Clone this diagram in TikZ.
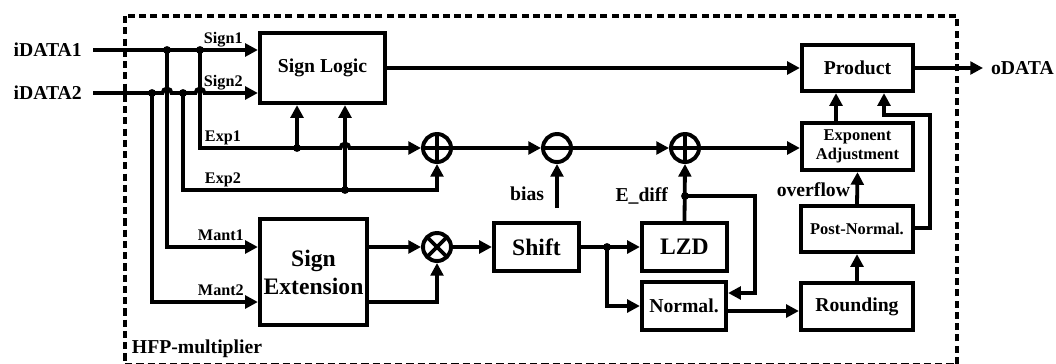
\documentclass[tikz,border=0pt]{standalone}
\usepackage{fontspec}
\setmainfont{Liberation Serif}
\usetikzlibrary{positioning}
\usetikzlibrary{arrows.meta}
\tikzstyle{block} = [rectangle, draw, line width=3pt, align=center, inner sep=1pt,
                font=\fontsize{14}{15}\selectfont\bfseries]
\tikzstyle{op} = [circle, draw, line width=2.8pt, minimum size=0.7cm, inner sep=0pt]
\tikzstyle{plus} = [op, path picture={\draw[line width=2.6pt]
        (path picture bounding box.north) -- (path picture bounding box.south)
        (path picture bounding box.west) -- (path picture bounding box.east);}]
\tikzstyle{minus} = [op, path picture={\draw[line width=2.6pt]
        (path picture bounding box.west) -- (path picture bounding box.east);}]
\tikzstyle{times} = [op, path picture={\draw[line width=2.6pt]
        (path picture bounding box.north west) -- (path picture bounding box.south east)
        (path picture bounding box.north east) -- (path picture bounding box.south west);}]
\tikzstyle{wire} = [draw, line width=2.7pt]
\tikzstyle{line} = [draw, line width=2.7pt, -{Triangle[length=9pt,width=9pt]}]
\tikzstyle{sig} = [font=\fontsize{14}{15}\selectfont\bfseries]
\tikzstyle{lbl} = [font=\fontsize{11.5}{12}\selectfont\bfseries, inner sep=0.5pt]
\tikzset{hop/.style={insert path={arc[start angle=180, end angle=0, radius=3.2pt]}}}

\begin{document}
\begin{tikzpicture}[x=0.025cm, y=-0.025cm]
    \useasboundingbox (0,0) rectangle (1056,363);
    % outer frame
    \draw[line width=2.5pt, dash pattern=on 5pt off 3pt] (125,16) rectangle (957,364.5);
    \node[sig, anchor=west] (hfp) at (127,349) {HFP-multiplier};

    % blocks
    \node[block, minimum width=3.125cm, minimum height=1.75cm] (signlogic) at (322.5,68) {Sign Logic};
    \node[block, minimum width=2.675cm, minimum height=2.65cm,
          font=\fontsize{16.8}{20}\selectfont\bfseries] (signext) at (313.5,272) {Sign\\Extension};
    \node[block, minimum width=2.125cm, minimum height=1.2cm,
          font=\fontsize{16.8}{20}\selectfont\bfseries] (shift) at (536.5,247) {Shift};
    \node[block, minimum width=2.125cm, minimum height=1.2cm,
          font=\fontsize{16.8}{20}\selectfont\bfseries] (lzd) at (684.5,247) {LZD};
    \node[block, minimum width=2.1cm, minimum height=1.2cm] (normal) at (684,306) {Normal.};
    \node[block, minimum width=2.8cm, minimum height=1.175cm] (rounding) at (857,306.5) {Rounding};
    \node[block, minimum width=2.8cm, minimum height=1.15cm,
          font=\fontsize{11.7}{14}\selectfont\bfseries] (postnorm) at (857,229) {Post-Normal.};
    \node[block, minimum width=2.775cm, minimum height=1.175cm,
          font=\fontsize{11.7}{14}\selectfont\bfseries] (expadj) at (857.5,146.5) {Exponent\\Adjustment};
    \node[block, minimum width=2.775cm, minimum height=1.15cm] (product) at (857.5,68) {Product};

    % operators
    \node[plus] (add1) at (437,148) {};
    \node[minus] (sub) at (557,148) {};
    \node[plus] (add2) at (685,148) {};
    \node[times] (mul) at (437,247) {};

    % ports and labels
    \node[sig, anchor=east, inner xsep=7.8pt] (in1) at (93,50) {iDATA1};
    \node[sig, anchor=east, inner xsep=7.8pt] (in2) at (93,93) {iDATA2};
    \node[sig, anchor=west, inner xsep=5.5pt] (odata) at (983,68) {oDATA};
    \node[lbl, anchor=south west] (sign1lbl) at (203,48) {Sign1};
    \node[lbl, anchor=south west] (sign2lbl) at (203,91) {Sign2};
    \node[lbl, anchor=south west] (exp1lbl) at (204,146) {Exp1};
    \node[lbl, anchor=south west] (exp2lbl) at (204,188) {Exp2};
    \node[lbl, anchor=south west] (mant1lbl) at (197,242) {Mant1};
    \node[lbl, anchor=south west] (mant2lbl) at (197,297) {Mant2};
    \node[sig, anchor=east] (biaslbl) at (549,194) {bias};
    \node[sig, anchor=east] (ediff) at (673,196) {E\_diff};
    \node[sig, anchor=east] (ovf) at (855,190) {overflow};

    % junctions
    \coordinate (j1a) at (167,50);
    \coordinate (j1b) at (200,50);
    \coordinate (j2a) at (152,93);
    \coordinate (j2b) at (183,93);
    \coordinate (h1) at (167,93);
    \coordinate (h2) at (200,93);
    \coordinate (h3) at (345,148);
    \coordinate (e1) at (297,148);
    \coordinate (e2) at (345,190);
    \coordinate (m1) at (0,247);
    \coordinate (m2) at (0,302);
    \coordinate (s1) at (607,247);
    \coordinate (ed) at (685,196);
    \coordinate (fb) at (755,293);
    \coordinate (nr) at (0,311);
    \coordinate (bs) at (557,208);
    \coordinate (pa) at (836,0);
    \coordinate (pn) at (930,228);
    \coordinate (pb) at (884,115);

    % input side
    \path[line] (in1.east) -- (signlogic.west |- in1.east);
    \path[line] (in2.east) -- ([xshift=-3.2pt]h1) [hop] -- ([xshift=-3.2pt]h2) [hop]
        -- (signlogic.west |- in2.east);
    \path[line] (j1b) -- (j1b |- add1) -- ([xshift=-3.2pt]h3) [hop] -- (add1.west);
    \path[line] (e1) -- (e1 |- signlogic.south);
    \path[line] (j2b) -- (j2b |- e2) -- (add1 |- e2) -- (add1.south);
    \path[line] (e2) -- (e2 |- signlogic.south);
    \path[line] (j1a) -- (j1a |- m1) -- (signext.west |- m1);
    \path[line] (j2a) -- (j2a |- m2) -- (signext.west |- m2);

    % exponent path
    \path[line] (add1.east) -- (sub.west);
    \path[line] (sub.east) -- (add2.west);
    \path[line] (add2.east) -- (expadj.west |- add2.east);
    \path[line] (bs) -- (sub.south);

    % mantissa path
    \path[line] (signext.east |- m1) -- (mul.west);
    \path[line] (signext.east |- m2) -- (mul |- m2) -- (mul.south);
    \path[line] (mul.east) -- (shift.west);
    \path[wire] (shift.east) -- (s1);
    \path[line] (s1) -- (lzd.west);
    \path[line] (s1) -- (s1 |- normal.west) -- (normal.west);
    \path[line] (lzd.north) -- (add2.south);
    \path[line] (ed) -- (fb |- ed) -- (fb) -- (normal.east |- fb);
    \path[line] (normal.east |- nr) -- (rounding.west |- nr);
    \path[line] (rounding.north) -- (postnorm.south);
    \path[line] (postnorm.north) -- (expadj.south);
    \path[line] (postnorm.east |- pn) -- (pn) -- (pn |- pb) -- (pb) -- (pb |- product.south);
    \path[line] (expadj.north -| pa) -- (product.south -| pa);
    \path[line] (signlogic.east) -- (product.west);
    \path[line] (product.east) -- (odata.west);

    % dots
    \foreach \j in {j1a,j1b,j2a,j2b,e1,e2,s1,ed}
        \fill (\j) circle (2.8pt);
\end{tikzpicture}
\end{document}
